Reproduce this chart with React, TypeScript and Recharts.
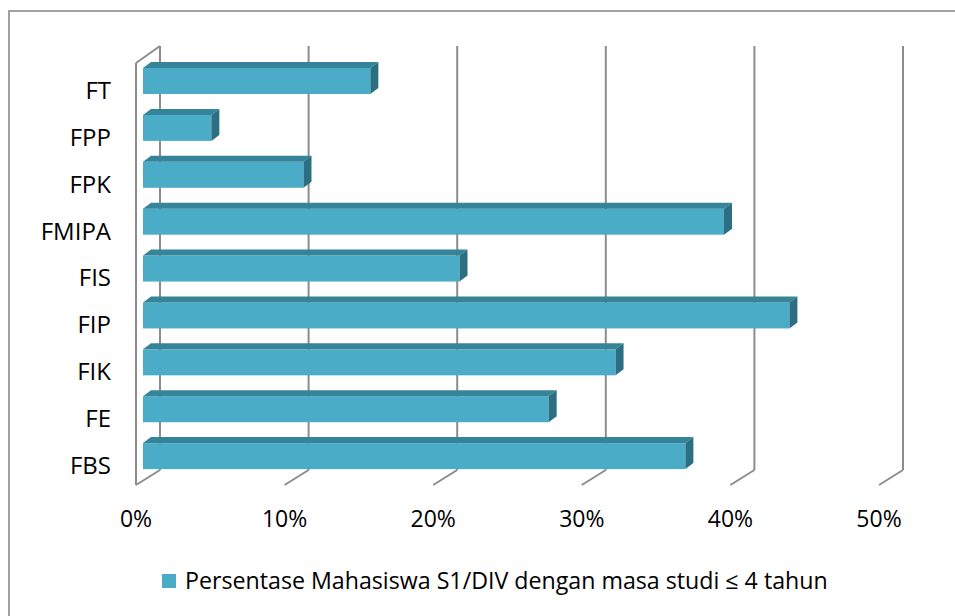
import React from "react"
import { BarChart, Bar, XAxis, YAxis, CartesianGrid, Legend } from "recharts"

const faculties = ["FT", "FPP", "FPK", "FMIPA", "FIS", "FIP", "FIK", "FE", "FBS"]
const persentase = [0.153, 0.046, 0.108, 0.391, 0.213, 0.435, 0.318, 0.273, 0.365]
const xTicks = [0, 0.1, 0.2, 0.3, 0.4, 0.5]
const seriesName = "Persentase Mahasiswa S1/DIV dengan masa studi ≤ 4 tahun"

const data = faculties.map((name, i) => ({ name, value: persentase[i] }))

const FONT = "'Open Sans', sans-serif"
const GRID = "#8c8c8c"
// 3D offsets: depth of the bar and of the chart walls
const BAR_DX = 8
const BAR_DY = 6
const BACK_DX = 17
const BACK_TOP = 12
const BACK_BOTTOM = 10
const FRONT_DX = -7
const FRONT_BOTTOM = 5

function Bar3D(props: any) {
  const { x, y, width, height } = props
  if (width == null || width <= 0) return null
  const r = x + width
  return (
    <g>
      <rect x={x} y={y} width={width} height={height} fill="#4aacc6" />
      <polygon
        points={`${x},${y} ${r},${y} ${r + BAR_DX},${y - BAR_DY} ${x + BAR_DX},${y - BAR_DY}`}
        fill="#35849a"
      />
      <polygon
        points={`${r},${y} ${r + BAR_DX},${y - BAR_DY} ${r + BAR_DX},${y + height - BAR_DY} ${r},${y + height}`}
        fill="#2c6f82"
      />
    </g>
  )
}

function GridLine(props: any) {
  const { x1, y1, y2, index } = props
  const bx = x1 + BACK_DX
  const fx = x1 + FRONT_DX
  return (
    <g key={`g-${index}`}>
      <line x1={bx} y1={y1 - BACK_TOP} x2={bx} y2={y2 - BACK_BOTTOM} stroke={GRID} strokeWidth={2} />
      <line x1={bx} y1={y2 - BACK_BOTTOM} x2={fx} y2={y2 + FRONT_BOTTOM} stroke={GRID} strokeWidth={2} />
      {index === 0 && (
        <g>
          <line x1={fx} y1={y1 + 5} x2={fx} y2={y2 + FRONT_BOTTOM} stroke={GRID} strokeWidth={2} />
          <line x1={fx} y1={y1 + 5} x2={bx} y2={y1 - BACK_TOP} stroke={GRID} strokeWidth={2} />
        </g>
      )}
    </g>
  )
}

function XTick(props: any) {
  const { x, y, payload } = props
  return (
    <text x={x + FRONT_DX} y={y + 41} textAnchor="middle" dominantBaseline="middle" fontFamily={FONT} fontSize={23} fill="#000">
      {`${Math.round(payload.value * 100)}%`}
    </text>
  )
}

function YTick(props: any) {
  const { x, y, payload } = props
  return (
    <text x={x} y={y + 11} textAnchor="end" dominantBaseline="middle" fontFamily={FONT} fontSize={24} fill="#000">
      {payload.value}
    </text>
  )
}

function LegendContent() {
  return (
    <div style={{ width: 955, height: 40, position: "relative", fontFamily: FONT, fontSize: 23.2, color: "#000" }}>
      <div style={{ position: "absolute", left: 162, top: 14, width: 14, height: 14, background: "#4aacc6" }} />
      <div style={{ position: "absolute", left: 185, top: 5, whiteSpace: "nowrap", lineHeight: "30px" }}>{seriesName}</div>
    </div>
  )
}

export default function App() {
  return (
    <div style={{ position: "absolute", left: 0, top: 0, width: 955, height: 616, background: "#fff" }}>
      <div
        style={{
          position: "absolute",
          left: 8,
          top: 10,
          width: 947,
          height: 606,
          borderTop: "2px solid #a0a0a0",
          borderLeft: "2px solid #a0a0a0",
        }}
      />
      <div style={{ position: "absolute", left: 0, top: 0 }}>
        <BarChart
          width={955}
          height={616}
          data={data}
          layout="vertical"
          margin={{ top: 58, right: 69, bottom: 16, left: 43 }}
        >
          <CartesianGrid horizontal={false} vertical={GridLine} />
          <XAxis
            type="number"
            domain={[0, 0.5]}
            ticks={xTicks}
            height={80}
            axisLine={false}
            tickLine={false}
            tickSize={0}
            tickMargin={0}
            tick={XTick}
            interval={0}
          />
          <YAxis
            type="category"
            dataKey="name"
            width={100}
            axisLine={false}
            tickLine={false}
            tickSize={0}
            tickMargin={32}
            tick={YTick}
            interval={0}
          />
          <Legend
            verticalAlign="bottom"
            height={40}
            wrapperStyle={{ left: 0, width: 955 }}
            content={LegendContent}
          />
          <Bar dataKey="value" name={seriesName} barSize={26} shape={Bar3D} isAnimationActive={false} />
        </BarChart>
      </div>
    </div>
  )
}
